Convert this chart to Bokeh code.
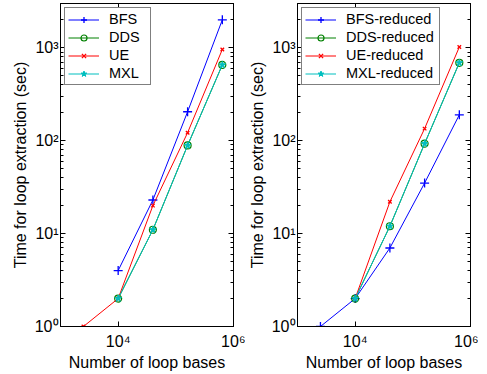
from bokeh.plotting import figure
from bokeh.layouts import row
from bokeh.models import FixedTicker, LogAxis, Range1d
from bokeh.embed import file_html
from bokeh.resources import INLINE

# number of loop bases (x values)
n_bases = [2500, 10000, 40000, 160000, 640000]

# left panel (seconds)
bfs = [4, 23, 205, 2000]          # at n_bases[1:]
dds = [2, 11, 89, 655]            # at n_bases[1:]
ue = [1, 2, 20, 122, 960]         # at n_bases
mxl = [2, 11, 89, 655]            # at n_bases[1:]

# right panel (seconds)
bfs_r = [1, 2, 7, 35, 190]        # at n_bases
dds_r = [2, 12, 93, 690]          # at n_bases[1:]
ue_r = [2, 22, 135, 1020]         # at n_bases[1:]
mxl_r = [2, 12, 93, 690]          # at n_bases[1:]

x_ticks = [10000, 1000000]
x_tick_labels = ["10\u2074", "10\u2076"]
y_ticks = [1, 10, 100, 1000]
y_tick_labels = ["10\u2070", "10\u00b9", "10\u00b2", "10\u00b3"]
y_minor = [m * 10 ** k for k in range(0, 4) for m in range(2, 10)]

FONT = "Liberation Sans"
BLUE, GREEN, RED, CYAN = "#0000FF", "#008000", "#FF0000", "#00BFBF"


def style_axis(ax):
    ax.axis_line_color = "black"
    ax.axis_line_width = 1
    ax.major_tick_in = 5
    ax.major_tick_out = 0
    ax.minor_tick_in = 3
    ax.minor_tick_out = 0
    ax.major_tick_line_color = "black"
    ax.minor_tick_line_color = "black"
    ax.major_label_text_font = FONT
    ax.major_label_text_color = "black"
    ax.major_label_text_font_size = "16px"
    ax.axis_label_text_font = FONT
    ax.axis_label_text_font_style = "normal"
    ax.axis_label_text_font_size = "16px"
    ax.axis_label_text_color = "black"


def make_panel(series, label_width, border_left, border_right):
    p = figure(
        x_axis_type="log", y_axis_type="log",
        x_range=Range1d(1000, 1000000), y_range=Range1d(1, 3000),
        frame_width=173, frame_height=323,
        min_border_left=border_left, min_border_right=border_right,
        min_border_top=3, min_border_bottom=42,
        output_backend="svg", toolbar_location=None,
        background_fill_color="white", border_fill_color="white",
    )
    p.grid.visible = False
    p.outline_line_color = "black"
    p.outline_line_width = 1

    xt = dict(zip(x_ticks, x_tick_labels))
    yt = dict(zip(y_ticks, y_tick_labels))

    p.xaxis.ticker = FixedTicker(ticks=x_ticks, minor_ticks=[])
    p.yaxis.ticker = FixedTicker(ticks=y_ticks, minor_ticks=y_minor)
    p.xaxis.major_label_overrides = xt
    p.yaxis.major_label_overrides = yt
    p.xaxis.axis_label = "Number of loop bases"
    p.yaxis.axis_label = "Time for loop extraction (sec)"
    p.xaxis.major_label_standoff = 6
    p.xaxis.axis_label_standoff = 1
    p.yaxis.major_label_standoff = 2
    p.yaxis.axis_label_standoff = 3
    for ax in p.xaxis + p.yaxis:
        style_axis(ax)

    top = LogAxis(ticker=FixedTicker(ticks=x_ticks, minor_ticks=[]),
                  major_label_overrides={t: "" for t in x_ticks})
    right = LogAxis(ticker=FixedTicker(ticks=y_ticks, minor_ticks=y_minor),
                    major_label_overrides={t: "" for t in y_ticks})
    style_axis(top)
    style_axis(right)
    p.add_layout(top, "above")
    p.add_layout(right, "right")

    for xs, ys, color, marker, size, label in series:
        p.line(xs, ys, line_color=color, line_width=1, legend_label=label)
        if marker == "circle":
            p.scatter(xs, ys, marker=marker, size=size, line_color=color,
                      fill_color=None, line_width=1.2, legend_label=label)
        elif marker == "star":
            p.scatter(xs, ys, marker=marker, size=size, line_color=color,
                      fill_color=color, line_width=1, legend_label=label)
        else:
            p.scatter(xs, ys, marker=marker, size=size, line_color=color,
                      line_width=1.3, legend_label=label)

    lg = p.legend[0]
    lg.location = "top_left"
    lg.margin = 4
    lg.padding = 3
    lg.spacing = 2
    lg.glyph_width = 31
    lg.glyph_height = 15
    lg.label_height = 15
    lg.label_width = label_width
    lg.label_standoff = 10
    lg.label_text_font = FONT
    lg.label_text_font_size = "14.5px"
    lg.label_text_color = "black"
    lg.label_text_baseline = "middle"
    lg.border_line_color = "black"
    lg.border_line_width = 1
    lg.background_fill_color = "white"
    lg.background_fill_alpha = 1
    return p


left = make_panel([
    (n_bases[1:], bfs, BLUE, "cross", 9, "BFS"),
    (n_bases[1:], dds, GREEN, "circle", 7, "DDS"),
    (n_bases, ue, RED, "x", 5, "UE"),
    (n_bases[1:], mxl, CYAN, "star", 7, "MXL"),
], label_width=38, border_left=60, border_right=12)

right_p = make_panel([
    (n_bases, bfs_r, BLUE, "cross", 9, "BFS-reduced"),
    (n_bases[1:], dds_r, GREEN, "circle", 7, "DDS-reduced"),
    (n_bases[1:], ue_r, RED, "x", 5, "UE-reduced"),
    (n_bases[1:], mxl_r, CYAN, "star", 7, "MXL-reduced"),
], label_width=90, border_left=50, border_right=8)

layout = row(left, right_p)

open("out.html", "w").write(file_html(layout, INLINE))
